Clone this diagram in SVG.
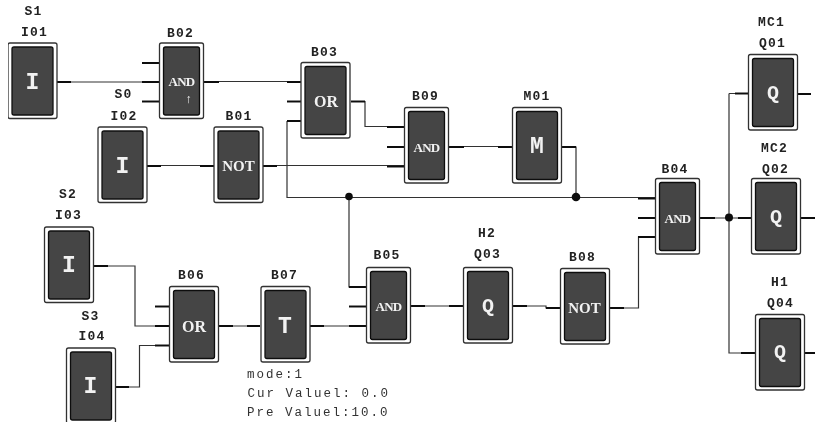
<svg xmlns="http://www.w3.org/2000/svg" width="815" height="422" viewBox="0 0 815 422">
<style>
.o{fill:#fff;stroke:#333;stroke-width:1.3}
.i{fill:#444;stroke:#111;stroke-width:1.3}
.t{fill:#f2f2f2;font-family:"Liberation Serif",serif;font-weight:bold;text-anchor:middle;font-size:17px}
.n{font-size:13px;letter-spacing:-.7px}
.b{font-family:"Liberation Mono",monospace;font-size:23px}
.l{fill:#222;font-family:"Liberation Mono",monospace;font-weight:bold;font-size:13px;letter-spacing:1.2px;text-anchor:middle}
.v{fill:#333;font-family:"Liberation Mono",monospace;font-size:12.5px;letter-spacing:2px}
.w{fill:none;stroke:#333;stroke-width:1.2}
.s{fill:none;stroke:#111;stroke-width:2.2}
</style>
<defs>
<g id="box"><rect class="o" x=".5" y=".5" width="49" height="75.5" rx="2"/><rect class="i" x="4.500" y="4.500" width="41" height="68" rx="2"/></g>
<g id="nar"><rect class="o" x=".5" y=".5" width="44" height="75.5" rx="2"/><rect class="i" x="4.500" y="4.500" width="36" height="68" rx="2"/></g>
<filter id="soft" x="0" y="0" width="1" height="1"><feGaussianBlur stdDeviation="0.35"/></filter>
</defs>
<rect width="815" height="422" fill="#fff"/>
<g filter="url(#soft)">
<g id="connectors">
<path class="w" d="M57 82H159M204 81.500H287M351 101.500H365V126.500H404M147 165.500H214M263 165.500H404M287 121V197.500H655M449 146.500H512M562 147H576V197.500M349 197.500V287H366M94 266H135V326H169M116 387H139.500V345.500H169M219 326H260M310 326H366M411 306H463M513 306H546V308H560M610 308H638.500V237H655M700 218H751M729 93.500V353H755M729 93.500H748"/>
<path class="s" d="M57 82H71M142 63H159M142 82H159M142 101.500H159M204 82H219M287 82H301M287 101.500H301M287 121H301M351 101.500H365M387 127H404M387 147H404M387 166.500H404M147 166H161M200 166H214M263 166H277M449 147H464M498 147H512M562 147H576M638 198.500H655M638 218H655M638 237H655M349 287H366M349 306.500H366M349 326H366M94 266H108M155 306.500H169M155 326H169M155 345.500H169M116 387H129M219 326H233M247 326H260M310 326H324M411 306H425M449 306H463M513 306H527M546 308H560M610 308H624M700 218H715M738 218H751M801 218H815M735 93.500H748M798 94H811M741 353H755M805 353H815"/>
<circle cx="349" cy="196.500" r="3.800" fill="#111"/>
<circle cx="576" cy="197" r="4.300" fill="#111"/>
<circle cx="729" cy="217.500" r="4" fill="#111"/>
</g>
<g id="I01"><use href="#box" x="7.500" y="42.500"/><text class="t b" x="32.500" y="89">I</text><text class="l" x="34.500" y="36">I01</text><text class="l" x="33.500" y="15">S1</text></g>
<g id="B02"><use href="#nar" x="159" y="42.500"/><text class="t n" x="181.500" y="86">AND</text><text class="t" x="188.500" y="103" style="font-size:12px">↑</text><text class="l" x="180.500" y="37">B02</text></g>
<g id="I02"><use href="#box" x="97.500" y="126.500"/><text class="t b" x="122.500" y="173">I</text><text class="l" x="124" y="120">I02</text><text class="l" x="123.500" y="98">S0</text></g>
<g id="B01"><use href="#box" x="213.500" y="126.500"/><text class="t" x="238.500" y="171" style="font-size:15px">NOT</text><text class="l" x="239" y="120">B01</text></g>
<g id="B03"><use href="#box" x="300.500" y="62"/><text class="t" x="326" y="107" style="font-size:16px">OR</text><text class="l" x="324.500" y="56">B03</text></g>
<g id="B09"><use href="#nar" x="404" y="107"/><text class="t n" x="426.500" y="151.500">AND</text><text class="l" x="425.500" y="100">B09</text></g>
<g id="M01"><use href="#box" x="512" y="107"/><text class="t b" x="537" y="153">M</text><text class="l" x="537" y="100">M01</text></g>
<g id="I03"><use href="#box" x="44" y="226.500"/><text class="t b" x="69" y="272">I</text><text class="l" x="68.500" y="219">I03</text><text class="l" x="68" y="198">S2</text></g>
<g id="I04"><use href="#box" x="66" y="347.500"/><text class="t b" x="90.500" y="393">I</text><text class="l" x="92" y="340">I04</text><text class="l" x="90.500" y="320">S3</text></g>
<g id="B06"><use href="#box" x="169" y="286"/><text class="t" x="194" y="331.500" style="font-size:16px">OR</text><text class="l" x="191.500" y="279">B06</text></g>
<g id="B07"><use href="#box" x="260.500" y="286"/><text class="t b" x="285" y="333">T</text><text class="l" x="284.500" y="279">B07</text></g>
<g id="B05"><use href="#nar" x="366" y="267"/><text class="t n" x="388.500" y="311">AND</text><text class="l" x="387" y="259">B05</text></g>
<g id="Q03"><use href="#box" x="463" y="267"/><text class="t b" x="488" y="312" style="font-size:20px">Q</text><text class="l" x="487.500" y="258">Q03</text><text class="l" x="487" y="237">H2</text></g>
<g id="B08"><use href="#box" x="560" y="268"/><text class="t" x="584.500" y="313" style="font-size:15px">NOT</text><text class="l" x="582.500" y="261">B08</text></g>
<g id="B04"><use href="#nar" x="655" y="178"/><text class="t n" x="677.500" y="222.500">AND</text><text class="l" x="675" y="173">B04</text></g>
<g id="Q01"><use href="#box" x="748" y="54"/><text class="t b" x="773" y="99" style="font-size:20px">Q</text><text class="l" x="772.500" y="47">Q01</text><text class="l" x="771.500" y="26">MC1</text></g>
<g id="Q02"><use href="#box" x="751" y="178"/><text class="t b" x="776" y="223" style="font-size:20px">Q</text><text class="l" x="775.500" y="173">Q02</text><text class="l" x="774.500" y="152">MC2</text></g>
<g id="Q04"><use href="#box" x="755" y="314"/><text class="t b" x="780" y="358" style="font-size:20px">Q</text><text class="l" x="780.500" y="307">Q04</text><text class="l" x="780" y="286">H1</text></g>
<g id="B07-values"><text class="v" x="247" y="378">mode:1</text><text class="v" x="247.500" y="397">Cur Valuel: 0.0</text><text class="v" x="247" y="416">Pre Valuel:10.0</text></g>
</g>
</svg>
